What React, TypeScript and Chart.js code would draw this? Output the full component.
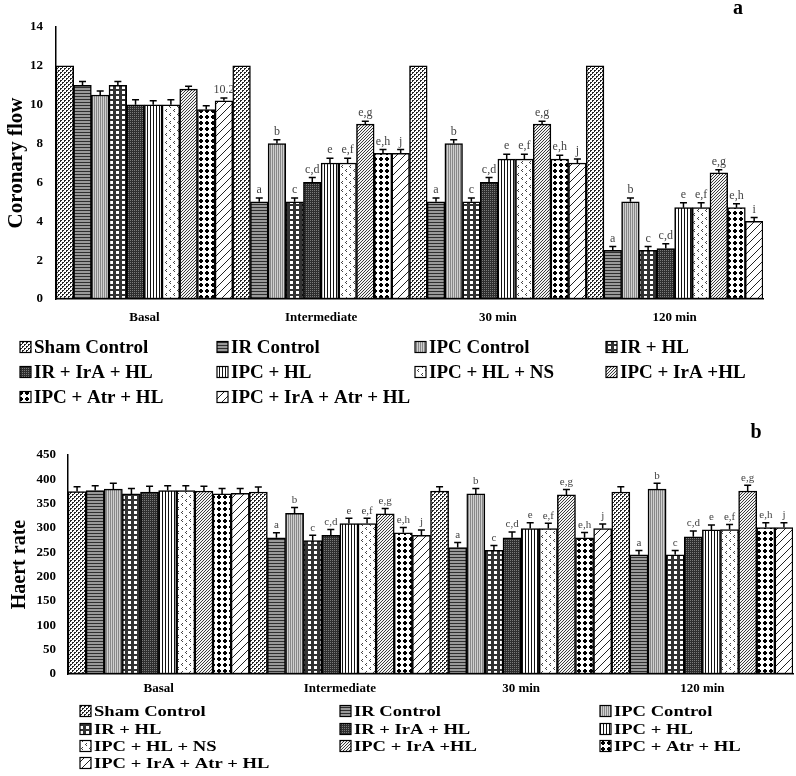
import React, { useEffect, useRef } from 'react';
import { Chart, registerables } from 'chart.js';
Chart.register(...registerables);

const FAMILY = "'Liberation Serif', 'Times New Roman', serif";

const categories = ['Basal', 'Intermediate', '30 min', '120 min'];
const seriesNames = [
  'Sham Control', 'IR Control', 'IPC Control', 'IR + HL', 'IR + IrA + HL',
  'IPC + HL', 'IPC + HL + NS', 'IPC + IrA +HL', 'IPC + Atr + HL', 'IPC + IrA + Atr + HL',
];

// Panel a: Coronary flow (per series, over categories)
const flowSham = [12, 12, 12, 12];
const flowIR = [11, 5, 5, 2.5];
const flowIPC = [10.5, 8, 8, 5];
const flowIRHL = [11, 5, 5, 2.5];
const flowIRIrAHL = [10, 6, 6, 2.6];
const flowIPCHL = [10, 7, 7.2, 4.7];
const flowIPCHLNS = [10, 7, 7.2, 4.7];
const flowIPCIrAHL = [10.8, 9, 9, 6.5];
const flowIPCAtrHL = [9.75, 7.5, 7.2, 4.7];
const flowIPCIrAAtrHL = [10.2, 7.5, 7, 4];

const errFlowSham = [0, 0, 0, 0];
const errFlowIR = [0.2, 0.2, 0.2, 0.2];
const errFlowIPC = [0.2, 0.2, 0.2, 0.2];
const errFlowIRHL = [0.2, 0.2, 0.2, 0.2];
const errFlowIRIrAHL = [0.25, 0.25, 0.25, 0.25];
const errFlowIPCHL = [0.2, 0.25, 0.25, 0.25];
const errFlowIPCHLNS = [0.25, 0.25, 0.25, 0.25];
const errFlowIPCIrAHL = [0.15, 0.15, 0.15, 0.15];
const errFlowIPCAtrHL = [0.2, 0.2, 0.2, 0.2];
const errFlowIPCIrAAtrHL = [0.15, 0.2, 0.2, 0.2];

const noteFlowSham = ['', '', '', ''];
const noteFlowIR = ['', 'a', 'a', 'a'];
const noteFlowIPC = ['', 'b', 'b', 'b'];
const noteFlowIRHL = ['', 'c', 'c', 'c'];
const noteFlowIRIrAHL = ['', 'c,d', 'c,d', 'c,d'];
const noteFlowIPCHL = ['', 'e', 'e', 'e'];
const noteFlowIPCHLNS = ['', 'e,f', 'e,f', 'e,f'];
const noteFlowIPCIrAHL = ['', 'e,g', 'e,g', 'e,g'];
const noteFlowIPCAtrHL = ['', 'e,h', 'e,h', 'e,h'];
const noteFlowIPCIrAAtrHL = ['10.2', 'j', 'j', 'i'];

// Panel b: Heart rate
const rateSham = [375, 374, 376, 374];
const rateIR = [377, 280, 260, 245];
const rateIPC = [380, 330, 370, 380];
const rateIRHL = [370, 274, 254, 245];
const rateIRIrAHL = [374, 285, 280, 282];
const rateIPCHL = [377, 309, 299, 296];
const rateIPCHLNS = [377, 309, 299, 297];
const rateIPCIrAHL = [376, 329, 368, 376];
const rateIPCAtrHL = [370, 290, 280, 301];
const rateIPCIrAAtrHL = [371, 285, 299, 301];

const errRateSham = [10, 10, 9, 11];
const errRateIR = [10, 10, 10, 9];
const errRateIPC = [12, 12, 11, 12];
const errRateIRHL = [11, 11, 10, 9];
const errRateIRIrAHL = [12, 12, 12, 12];
const errRateIPCHL = [10, 11, 12, 10];
const errRateIPCHLNS = [10, 11, 11, 10];
const errRateIPCIrAHL = [10, 11, 11, 12];
const errRateIPCAtrHL = [11, 11, 11, 10];
const errRateIPCIrAAtrHL = [10, 11, 9, 10];

const noteRateSham = ['', '', '', ''];
const noteRateIR = ['', 'a', 'a', 'a'];
const noteRateIPC = ['', 'b', 'b', 'b'];
const noteRateIRHL = ['', 'c', 'c', 'c'];
const noteRateIRIrAHL = ['', 'c,d', 'c,d', 'c,d'];
const noteRateIPCHL = ['', 'e', 'e', 'e'];
const noteRateIPCHLNS = ['', 'e,f', 'e,f', 'e,f'];
const noteRateIPCIrAHL = ['', 'e,g', 'e,g', 'e,g'];
const noteRateIPCAtrHL = ['', 'e,h', 'e,h', 'e,h'];
const noteRateIPCIrAAtrHL = ['', 'j', 'j', 'j'];

const flowTicks = [0, 2, 4, 6, 8, 10, 12, 14];
const rateTicks = [0, 50, 100, 150, 200, 250, 300, 350, 400, 450];

const flowValues = [flowSham, flowIR, flowIPC, flowIRHL, flowIRIrAHL, flowIPCHL, flowIPCHLNS, flowIPCIrAHL, flowIPCAtrHL, flowIPCIrAAtrHL];
const flowErrors = [errFlowSham, errFlowIR, errFlowIPC, errFlowIRHL, errFlowIRIrAHL, errFlowIPCHL, errFlowIPCHLNS, errFlowIPCIrAHL, errFlowIPCAtrHL, errFlowIPCIrAAtrHL];
const flowNotes = [noteFlowSham, noteFlowIR, noteFlowIPC, noteFlowIRHL, noteFlowIRIrAHL, noteFlowIPCHL, noteFlowIPCHLNS, noteFlowIPCIrAHL, noteFlowIPCAtrHL, noteFlowIPCIrAAtrHL];
const rateValues = [rateSham, rateIR, rateIPC, rateIRHL, rateIRIrAHL, rateIPCHL, rateIPCHLNS, rateIPCIrAHL, rateIPCAtrHL, rateIPCIrAAtrHL];
const rateErrors = [errRateSham, errRateIR, errRateIPC, errRateIRHL, errRateIRIrAHL, errRateIPCHL, errRateIPCHLNS, errRateIPCIrAHL, errRateIPCAtrHL, errRateIPCIrAAtrHL];
const rateNotes = [noteRateSham, noteRateIR, noteRateIPC, noteRateIRHL, noteRateIRIrAHL, noteRateIPCHL, noteRateIPCHLNS, noteRateIPCIrAHL, noteRateIPCAtrHL, noteRateIPCIrAAtrHL];

function tile(w: number, h: number, bg: string, fg: string, pts: number[][]) {
  const c = document.createElement('canvas');
  c.width = w; c.height = h;
  const g = c.getContext('2d')!;
  g.fillStyle = bg; g.fillRect(0, 0, w, h);
  g.fillStyle = fg;
  for (const p of pts) g.fillRect(p[0], p[1], p[2] || 1, p[3] || 1);
  return c;
}

function makePatterns(ctx: CanvasRenderingContext2D) {
  const tiles = [
    tile(4, 4, '#ffffff', '#262626', [[0, 0, 2, 1], [0, 1], [2, 2, 2, 1], [2, 3]]),
    tile(1, 3, '#999999', '#2e2e2e', [[0, 0]]),
    tile(2, 2, '#d0d0d0', '#888888', [[0, 0, 1, 2]]),
    tile(6, 5, '#333333', '#ffffff', [[2, 1, 3, 3]]),
    tile(2, 2, '#2e2e2e', '#7a7a7a', [[0, 0]]),
    tile(3, 1, '#ffffff', '#111', [[0, 0]]),
    tile(8, 8, '#ffffff', '#444', [[2, 1], [1, 2], [2, 3], [6, 5], [5, 6], [6, 7]]),
    tile(3, 3, '#f2f2f2', '#3a3a3a', [[2, 0], [1, 1], [0, 2]]),
    tile(6, 6, '#ffffff', '#000', [[2, 1, 2, 1], [1, 2, 4, 2], [2, 4, 2, 1]]),
    tile(8, 8, '#ffffff', '#222', [[7, 0], [6, 1], [5, 2], [4, 3], [3, 4], [2, 5], [1, 6], [0, 7]]),
  ];
  return tiles.map((t) => ctx.createPattern(t, 'repeat')!);
}

function drawText(ctx: CanvasRenderingContext2D, text: string, x: number, y: number, font: string, sx: number) {
  ctx.save();
  ctx.translate(x, y);
  ctx.scale(sx, 1);
  ctx.font = font;
  ctx.fillText(text, 0, 0);
  ctx.restore();
}

interface PanelSpec {
  values: number[][];
  errors: number[][];
  notes: string[][];
  ticks: number[];
  title: string;
  titleSize: number;
  titlePad: number;
  padding: { left: number; top: number; right: number; bottom: number };
  yWidth: number;
  xHeight: number;
  tickPad: number;
  xTickPad: number;
  noteSize: number;
  letter: string;
  letterX: number;
  letterY: number;
  legendCols: number[];
  legendRows: number[];
  legendPerRow: number;
  legendFont: number;
  legendScale: number;
  swatch: number;
}

function buildConfig(spec: PanelSpec, patterns: CanvasPattern[]) {
  const datasets = seriesNames.map((name, i) => ({
    label: name,
    data: spec.values[i],
    errors: spec.errors[i],
    notes: spec.notes[i],
    backgroundColor: patterns[i],
    borderColor: '#000',
    borderWidth: 1.5,
    borderSkipped: false,
    categoryPercentage: 1,
    barPercentage: 1,
  }));

  const decor = {
    id: 'decor',
    afterDatasetsDraw(chart: any) {
      const ctx = chart.ctx as CanvasRenderingContext2D;
      const ys = chart.scales.y;
      ctx.save();
      chart.data.datasets.forEach((ds: any, i: number) => {
        const meta = chart.getDatasetMeta(i);
        meta.data.forEach((bar: any, j: number) => {
          const v = ds.data[j];
          const e = ds.errors[j];
          let top = bar.y;
          if (e > 0) {
            const ye = ys.getPixelForValue(v + e);
            ctx.strokeStyle = '#000';
            ctx.lineWidth = 1.5;
            ctx.beginPath();
            ctx.moveTo(bar.x, bar.y);
            ctx.lineTo(bar.x, ye);
            ctx.moveTo(bar.x - 3.5, ye);
            ctx.lineTo(bar.x + 3.5, ye);
            ctx.stroke();
            top = ye;
          }
          const note = ds.notes[j];
          if (note) {
            ctx.fillStyle = '#444';
            ctx.font = `${spec.noteSize}px ${FAMILY}`;
            ctx.textAlign = 'center';
            ctx.textBaseline = 'bottom';
            ctx.fillText(note, bar.x, top - 2);
          }
        });
      });
      ctx.restore();
    },
    afterDraw(chart: any) {
      const ctx = chart.ctx as CanvasRenderingContext2D;
      ctx.save();
      ctx.fillStyle = '#000';
      ctx.font = `bold 20px ${FAMILY}`;
      ctx.textAlign = 'center';
      ctx.textBaseline = 'middle';
      ctx.fillText(spec.letter, spec.letterX, spec.letterY);
      ctx.textAlign = 'left';
      seriesNames.forEach((name, i) => {
        const col = i % spec.legendPerRow;
        const row = Math.floor(i / spec.legendPerRow);
        const x = spec.legendCols[col];
        const y = spec.legendRows[row];
        const s = spec.swatch;
        ctx.fillStyle = patterns[i];
        ctx.fillRect(x, y - s / 2, s, s);
        ctx.strokeStyle = '#000';
        ctx.lineWidth = 1.2;
        ctx.strokeRect(x, y - s / 2, s, s);
        ctx.fillStyle = '#000';
        ctx.textBaseline = 'middle';
        drawText(ctx, name, x + s + 3, y + 1, `bold ${spec.legendFont}px ${FAMILY}`, spec.legendScale);
      });
      ctx.restore();
    },
  };

  return {
    type: 'bar' as const,
    data: { labels: categories, datasets },
    plugins: [decor],
    options: {
      responsive: false,
      animation: false as const,
      layout: { padding: spec.padding },
      plugins: { legend: { display: false }, tooltip: { enabled: false } },
      scales: {
        x: {
          grid: { display: false, drawTicks: false },
          border: { display: true, color: '#000', width: 1.5 },
          ticks: { color: '#000', font: { family: FAMILY, size: 13, weight: 'bold' }, padding: spec.xTickPad },
          afterFit: (scale: any) => { scale.height = spec.xHeight; },
        },
        y: {
          min: spec.ticks[0],
          max: spec.ticks[spec.ticks.length - 1],
          afterBuildTicks: (scale: any) => { scale.ticks = spec.ticks.map((v) => ({ value: v })); },
          grid: { display: false, drawTicks: false },
          border: { display: true, color: '#000', width: 1.5 },
          ticks: { color: '#000', font: { family: FAMILY, size: 13, weight: 'bold' }, padding: spec.tickPad },
          title: {
            display: true,
            text: spec.title,
            color: '#000',
            font: { family: FAMILY, size: spec.titleSize, weight: 'bold' },
            padding: { top: spec.titlePad, bottom: 0 },
          },
          afterFit: (scale: any) => { scale.width = spec.yWidth; },
        },
      },
    },
  };
}

const specA: PanelSpec = {
  values: flowValues, errors: flowErrors, notes: flowNotes, ticks: flowTicks,
  title: 'Coronary flow', titleSize: 21, titlePad: 4,
  padding: { left: 0, top: 27, right: 33, bottom: 0 },
  yWidth: 56, xHeight: 111, tickPad: 13, xTickPad: 11, noteSize: 12,
  letter: 'a', letterX: 738, letterY: 9,
  legendCols: [20, 217, 415, 606], legendRows: [347, 372, 397], legendPerRow: 4,
  legendFont: 19, legendScale: 1, swatch: 11,
};

const specB: PanelSpec = {
  values: rateValues, errors: rateErrors, notes: rateNotes, ticks: rateTicks,
  title: 'Haert rate', titleSize: 20, titlePad: 8,
  padding: { left: 0, top: 45, right: 3, bottom: 0 },
  yWidth: 68, xHeight: 102, tickPad: 12, xTickPad: 7, noteSize: 11,
  letter: 'b', letterX: 756, letterY: 23,
  legendCols: [80, 340, 600], legendRows: [301, 319, 336, 353], legendPerRow: 3,
  legendFont: 15, legendScale: 1.24, swatch: 11,
};

export default function App() {
  const refA = useRef<HTMLCanvasElement>(null);
  const refB = useRef<HTMLCanvasElement>(null);

  useEffect(() => {
    const charts: Chart[] = [];
    const pairs: [HTMLCanvasElement | null, PanelSpec][] = [[refA.current, specA], [refB.current, specB]];
    for (const [cv, spec] of pairs) {
      if (!cv) continue;
      const ctx = cv.getContext('2d')!;
      const patterns = makePatterns(ctx);
      charts.push(new Chart(ctx, buildConfig(spec, patterns) as any));
    }
    return () => charts.forEach((c) => c.destroy());
  }, []);

  return (
    <div style={{ position: 'absolute', left: 0, top: 0, width: 796, height: 776, background: '#fff' }}>
      <canvas ref={refA} width={796} height={410} style={{ position: 'absolute', left: 0, top: 0, display: 'block' }} />
      <canvas ref={refB} width={796} height={366} style={{ position: 'absolute', left: 0, top: 410, display: 'block' }} />
    </div>
  );
}
